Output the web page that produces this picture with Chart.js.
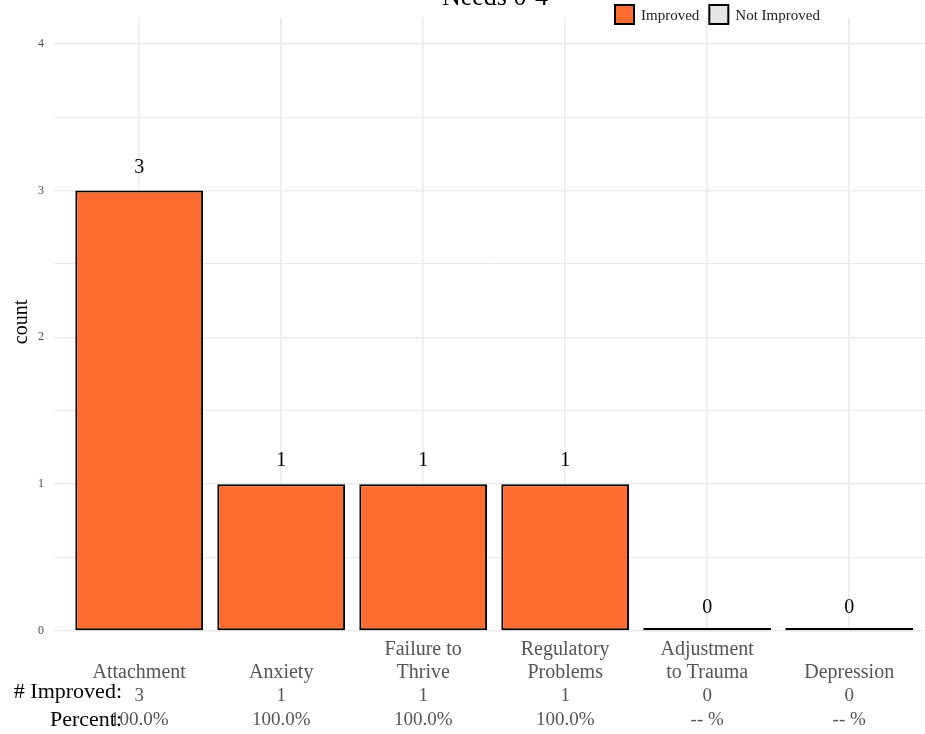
<!DOCTYPE html>
<html>
<head>
<meta charset="utf-8">
<script src="https://cdn.jsdelivr.net/npm/chart.js@4"></script>
<style>
  body { margin: 0; background: #fff; }
</style>
</head>
<body>
<canvas id="needsChart" width="925" height="734"></canvas>
<script>
// données du graphique
const categories = [['Attachment'], ['Anxiety'], ['Failure to', 'Thrive'], ['Regulatory', 'Problems'], ['Adjustment', 'to Trauma'], ['Depression']];
const improvedCounts = [3, 1, 1, 1, 0, 0];
const percentLabels = ['100.0%', '100.0%', '100.0%', '100.0%', '-- %', '-- %'];
const yTicks = [0, 0.5, 1, 1.5, 2, 2.5, 3, 3.5, 4];
const legendLabels = ['Improved', 'Not Improved'];
const legendColors = ['#FF6C30', '#E5E5E5'];

const serif = '"Liberation Serif", "DejaVu Serif", serif';

// plugin pour le titre, la légende, les étiquettes et le tableau du bas
const annotations = {
    id: 'annotations',
    afterDraw(chart) {
        const ctx = chart.ctx;
        const xs = chart.scales.x;
        const ys = chart.scales.y;
        ctx.save();

        // titre (coupé en haut comme sur l'original)
        ctx.fillStyle = '#000';
        ctx.font = '26px ' + serif;
        ctx.textAlign = 'center';
        ctx.textBaseline = 'alphabetic';
        ctx.fillText('Needs 0-4', 495, 5);

        // légende
        ctx.font = '15px ' + serif;
        ctx.textBaseline = 'middle';
        ctx.textAlign = 'left';
        let lx = 615;
        legendLabels.forEach((label, i) => {
            ctx.fillStyle = legendColors[i];
            ctx.fillRect(lx, 5, 19, 19);
            ctx.strokeStyle = '#000';
            ctx.lineWidth = 2;
            ctx.strokeRect(lx, 5, 19, 19);
            ctx.fillStyle = '#222';
            ctx.fillText(label, lx + 26, 16);
            lx += 26 + ctx.measureText(label).width + 10;
        });

        // titre axe y
        ctx.save();
        ctx.translate(22, 322);
        ctx.rotate(-Math.PI / 2);
        ctx.textAlign = 'center';
        ctx.fillStyle = '#000';
        ctx.font = '20px ' + serif;
        ctx.fillText('count', 0, 0);
        ctx.restore();

        // valeurs au-dessus des barres
        ctx.textAlign = 'center';
        ctx.fillStyle = '#000';
        ctx.font = '20px ' + serif;
        improvedCounts.forEach((v, i) => {
            ctx.fillText(String(v), xs.getPixelForValue(i), ys.getPixelForValue(v) - 23);
        });

        // étiquettes de l'axe x (alignées en bas)
        ctx.font = '20px ' + serif;
        ctx.fillStyle = '#555';
        categories.forEach((lines, i) => {
            const cx = xs.getPixelForValue(i);
            lines.forEach((line, k) => {
                ctx.fillText(line, cx, 673 - (lines.length - 1 - k) * 23);
            });
        });

        // tableau du bas
        ctx.font = '19px ' + serif;
        improvedCounts.forEach((v, i) => {
            ctx.fillText(String(v), xs.getPixelForValue(i), 696);
        });
        percentLabels.forEach((p, i) => {
            ctx.fillText(p, xs.getPixelForValue(i), 720);
        });
        ctx.fillStyle = '#000';
        ctx.textAlign = 'right';
        ctx.font = '22px ' + serif;
        ctx.fillText('# Improved:', 122, 692);
        ctx.fillText('Percent:', 122, 720);

        ctx.restore();
    }
};

const ctx = document.getElementById('needsChart').getContext('2d');
const needsChart = new Chart(ctx, {
    type: 'bar',
    data: {
        datasets: [{
            label: legendLabels[0],
            data: improvedCounts.map((v, i) => ({ x: i, y: v })),
            backgroundColor: legendColors[0],
            borderColor: '#000',
            borderWidth: 2,
            borderSkipped: false,
            minBarLength: 3,
            barPercentage: 0.9,
            categoryPercentage: 1
        }]
    },
    options: {
        responsive: false,
        animation: false,
        layout: { padding: { top: 10, left: 0, right: 0, bottom: 0 } },
        plugins: {
            legend: { display: false },
            title: { display: false },
            tooltip: { enabled: false }
        },
        scales: {
            x: {
                type: 'linear',
                min: -0.6,
                max: 5.534,
                offset: false,
                afterBuildTicks: scale => { scale.ticks = categories.map((c, i) => ({ value: i })); },
                afterFit: scale => { scale.height = 103; },
                ticks: { display: false },
                border: { display: false },
                grid: { color: '#EBEBEB', lineWidth: 1.5, drawTicks: false, offset: false }
            },
            y: {
                min: 0,
                max: 4.18,
                afterBuildTicks: scale => { scale.ticks = yTicks.map(v => ({ value: v })); },
                afterFit: scale => { scale.width = 54; },
                ticks: {
                    padding: 10,
                    color: '#4D4D4D',
                    font: { family: serif, size: 12 },
                    callback: v => (v % 1 === 0 ? String(v) : '')
                },
                border: { display: false },
                grid: {
                    color: '#EBEBEB',
                    drawTicks: false,
                    lineWidth: c => (c.tick && c.tick.value % 1 === 0 ? 1.5 : 1)
                }
            }
        }
    },
    plugins: [annotations]
});
</script>
</body>
</html>
